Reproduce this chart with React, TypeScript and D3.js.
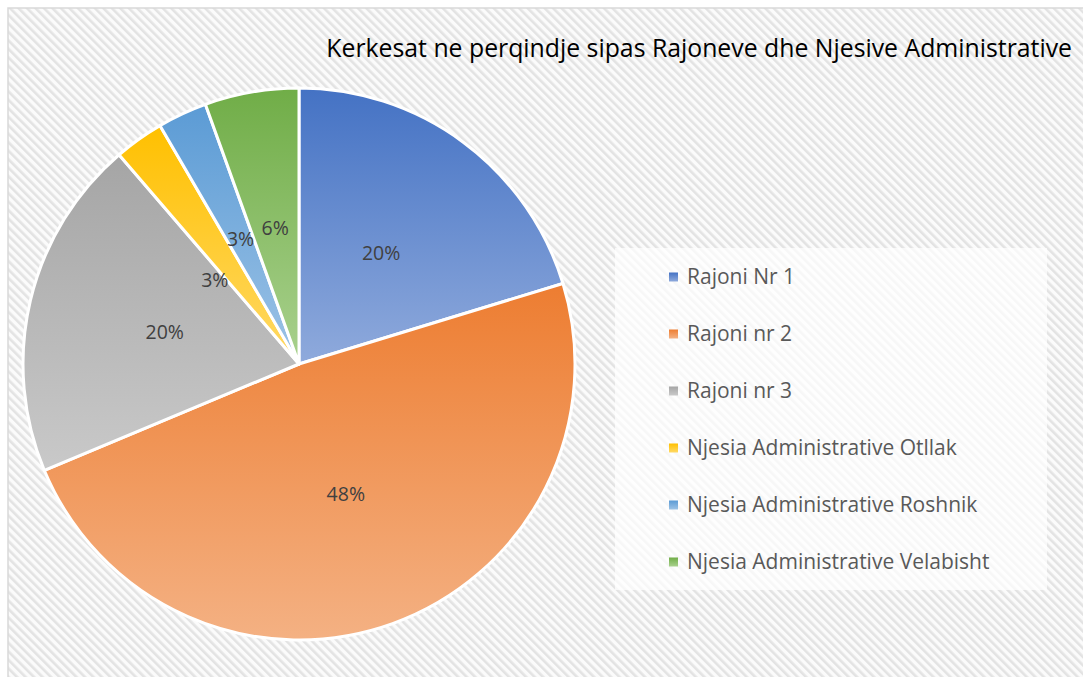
import React from 'react';
import * as d3 from 'd3';

const title = 'Kerkesat ne perqindje sipas Rajoneve dhe Njesive Administrative';
const categories = [
  'Rajoni Nr 1',
  'Rajoni nr 2',
  'Rajoni nr 3',
  'Njesia Administrative Otllak',
  'Njesia Administrative Roshnik',
  'Njesia Administrative Velabisht',
];
const values = [70, 167, 69, 10, 10, 19];
const topColors = ['#4472C4', '#ED7D31', '#A5A5A5', '#FFC000', '#5B9BD5', '#70AD47'];
const bottomColors = ['#8FAADC', '#F4B183', '#C9C9C9', '#FFD966', '#9DC3E6', '#A9D18E'];

const W = 1083;
const H = 677;
const cx = 299;
const cy = 364;
const R = 276;
const font = '"Open Sans", Lato, sans-serif';

export default function App() {
  const total = d3.sum(values);
  const pie = d3.pie<number>().sort(null).value(d => d);
  const arcs = pie(values);
  const arc = d3.arc<d3.PieArcDatum<number>>().innerRadius(0).outerRadius(R);

  const labelPos = (a: d3.PieArcDatum<number>, i: number) => {
    let mid = (a.startAngle + a.endAngle) / 2;
    let r = R * 0.5;
    // excel nudges the first small label away from its neighbour
    if (i === 3) { mid -= 0.17; r = R * 0.43; }
    return [Math.sin(mid) * r, -Math.cos(mid) * r];
  };

  const legendY = d3.scalePoint<string>().domain(categories).range([277, 562]);

  return (
    <svg width={W} height={H} style={{ position: 'fixed', left: 0, top: 0 }}>
      <defs>
        <pattern id="hatch" patternUnits="userSpaceOnUse" width={6} height={6} patternTransform="rotate(-45)">
          <rect width={6} height={6} fill="#fbfbfb" />
          <rect width={2.6} height={6} fill="#e3e3e3" />
        </pattern>
        {topColors.map((c, i) => (
          <linearGradient key={i} id={`g${i}`} x1="0" y1="0" x2="0" y2="1">
            <stop offset="0%" stopColor={c} />
            <stop offset="100%" stopColor={bottomColors[i]} />
          </linearGradient>
        ))}
      </defs>
      <rect width={W} height={H} fill="#fff" />
      <rect x={8} y={8} width={W} height={H} fill="url(#hatch)" stroke="#d9d9d9" strokeWidth={1.5} />

      <text x={1072} y={57} textAnchor="end" fontFamily={font} fontSize={24.8} fill="#000">{title}</text>

      <g transform={`translate(${cx},${cy})`}>
        {arcs.map((a, i) => (
          <path key={i} d={arc(a) || ''} fill={`url(#g${i})`} stroke="#fff" strokeWidth={3} strokeLinejoin="round" />
        ))}
        {arcs.map((a, i) => {
          const [x, y] = labelPos(a, i);
          return (
            <text key={i} x={x} y={y} dy="0.35em" textAnchor="middle" fontFamily={font} fontSize={19.5} fill="#404040">
              {d3.format('.0%')(a.data / total)}
            </text>
          );
        })}
      </g>

      <rect x={615} y={248} width={432} height={342} fill="#fff" fillOpacity={0.7} />
      {categories.map((c, i) => {
        const y = legendY(c) as number;
        return (
          <g key={c}>
            <rect x={669} y={y - 4.5} width={9} height={9} fill={`url(#g${i})`} />
            <text x={687} y={y} dy="0.35em" fontFamily={font} fontSize={21} fill="#595959">{c}</text>
          </g>
        );
      })}
    </svg>
  );
}
